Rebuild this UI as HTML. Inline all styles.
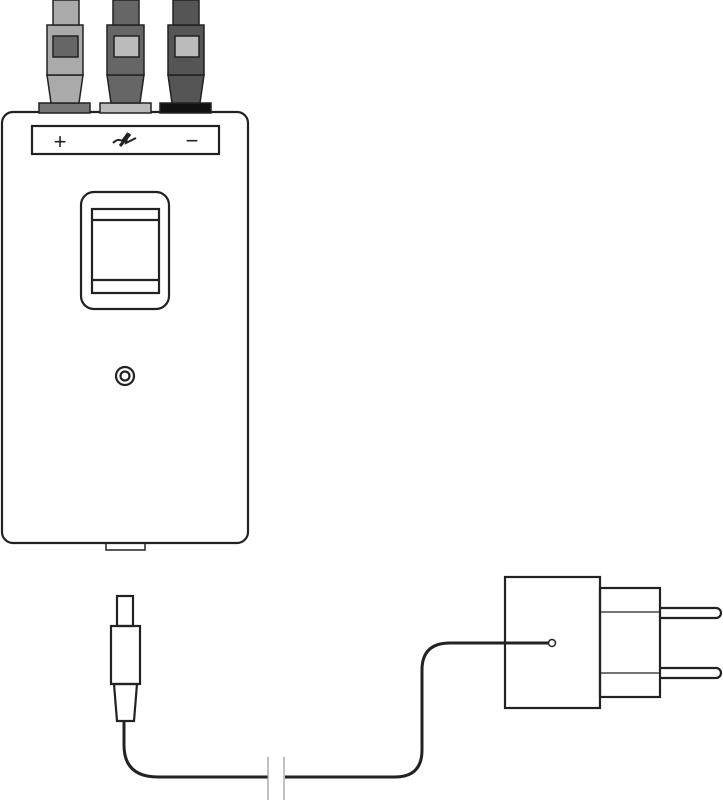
<!DOCTYPE html>
<html><head><meta charset="utf-8"><style>html,body{margin:0;padding:0;background:#fff}svg{display:block}</style></head>
<body>
<svg width="723" height="800" viewBox="0 0 723 800" xmlns="http://www.w3.org/2000/svg" fill="none" stroke="#222" stroke-width="2.2">
<rect x="2" y="112" width="246" height="431" rx="11" fill="#fff"/>
<rect x="32" y="126" width="187" height="28" fill="#fff"/>
<text x="60" y="149" font-family="Liberation Sans, sans-serif" font-size="22" fill="#222" stroke="none" text-anchor="middle">+</text>
<text x="192" y="148" font-family="Liberation Sans, sans-serif" font-size="22" fill="#222" stroke="none" text-anchor="middle">−</text>
<path d="M113 143 Q118 138 122 141 L128 133 L126 143 Q132 140 136 138" stroke-width="2"/>
<path d="M120 146 L130 134" stroke-width="3"/>
<g stroke="#222" stroke-width="1.5">
 <rect x="39" y="103" width="51" height="10" fill="#777"/>
 <path d="M47 75 L83 75 L79 103 L51 103 Z" fill="#aaa"/>
 <rect x="47" y="25" width="36" height="50" fill="#aaa"/>
 <rect x="53" y="0" width="26" height="25" fill="#aaa"/>
 <rect x="53" y="36" width="25" height="21" fill="#666"/>
 <rect x="100" y="103" width="51" height="10" fill="#bbb"/>
 <path d="M107 75 L144 75 L140 103 L111 103 Z" fill="#666"/>
 <rect x="107" y="25" width="37" height="50" fill="#666"/>
 <rect x="113" y="0" width="26" height="25" fill="#666"/>
 <rect x="114" y="36" width="25" height="21" fill="#bbb"/>
 <rect x="160" y="103" width="51" height="10" fill="#111"/>
 <path d="M168 75 L204 75 L200 103 L172 103 Z" fill="#555"/>
 <rect x="168" y="25" width="36" height="50" fill="#555"/>
 <rect x="173" y="0" width="26" height="25" fill="#555"/>
 <rect x="175" y="36" width="24" height="21" fill="#bbb"/>
</g>
<rect x="81" y="192" width="88" height="117" rx="13"/>
<rect x="92" y="209" width="67" height="84"/>
<line x1="92" y1="220" x2="159" y2="220"/>
<line x1="92" y1="280" x2="159" y2="280"/>
<circle cx="125" cy="376" r="9"/>
<circle cx="125" cy="376" r="4.5"/>
<rect x="106" y="543" width="39" height="7" stroke-width="1.5"/>
<rect x="117" y="596" width="16" height="30"/>
<rect x="111" y="626" width="29" height="58"/>
<path d="M114 684 L137 684 L134 721 L117 721 Z"/>
<path d="M124 721 L124 745 Q124 777 158 777 L268 777 M285 777 L395 777 Q422 777 422 750 L422 670 Q422 643 450 643 L549 643" stroke-width="3"/>
<line x1="268" y1="757" x2="268" y2="800" stroke="#999" stroke-width="1.2"/>
<line x1="284" y1="757" x2="284" y2="800" stroke="#999" stroke-width="1.2"/>
<circle cx="552" cy="643" r="3.5" stroke-width="1.5" fill="#fff"/>
<rect x="505" y="577" width="95" height="131"/>
<rect x="600" y="588" width="60" height="109"/>
<line x1="600" y1="612" x2="660" y2="612" stroke-width="1.2"/>
<line x1="600" y1="673" x2="660" y2="673" stroke-width="1.2"/>
<path d="M660 608 L716 608 A5 5 0 0 1 716 618 L660 618"/>
<path d="M660 668 L716 668 A5 5 0 0 1 716 678 L660 678"/>
</svg>
</body></html>
